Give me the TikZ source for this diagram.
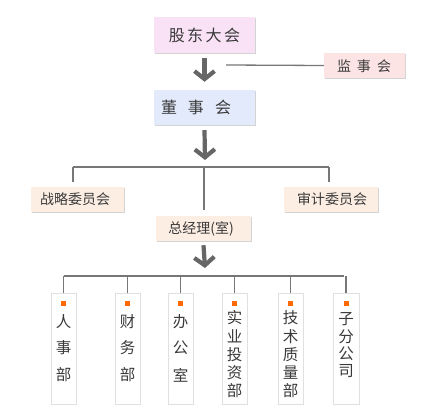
\documentclass[tikz,border=0pt]{standalone}
\usepackage{fontspec}
\setmainfont{Noto Sans CJK SC}
\usetikzlibrary{arrows.meta,shadows}
\definecolor{txt}{HTML}{3A3A3A}
\definecolor{ln}{HTML}{777777}
\definecolor{arr}{HTML}{666666}
\definecolor{pinkA}{HTML}{F9E2F6}
\definecolor{blueA}{HTML}{E2EAFC}
\definecolor{pinkB}{HTML}{FCE4E4}
\definecolor{peach}{HTML}{FDEEE4}
\definecolor{orng}{HTML}{FF6A00}
\tikzset{
  topbox/.style={fill=#1, draw=none, minimum width=101pt, minimum height=36pt, inner sep=0pt,
    drop shadow={shadow xshift=0.8pt, shadow yshift=-1.2pt, opacity=0.35}},
  smallbox/.style={fill=#1, draw=none, inner sep=0pt,
    drop shadow={shadow xshift=0.8pt, shadow yshift=-1.2pt, opacity=0.35}},
  deptbox/.style={fill=white, draw=black!12, line width=0.6pt, minimum width=25pt, inner sep=0pt,
    drop shadow={shadow xshift=1pt, shadow yshift=-1.2pt, opacity=0.25}},
  chr/.style={text=txt, inner sep=0pt, font=\fontsize{15.5}{16}\selectfont},
  tline/.style={draw=ln, line width=1.3pt},
  bigarrow/.style={draw=arr, line width=4.2pt, -{Straight Barb[length=8pt,width=20pt,line width=4.2pt]}},
  dot/.style={fill=orng, minimum size=5pt, inner sep=0pt},
}
\begin{document}
\begin{tikzpicture}[x=1pt,y=-1pt]
\useasboundingbox (0,0) rectangle (431,409);
% top boxes
\node[topbox=pinkA] (gd) at (204.5,35) {};
\node[chr, font=\fontsize{16}{16}\selectfont] (gdt) at (204.5,35) {股\hspace{2.5pt}东\hspace{2.5pt}大\hspace{2.5pt}会};
\node[topbox=blueA, minimum height=35pt] (ds) at (204.5,107.5) {};
\node[chr, font=\fontsize{16}{16}\selectfont] (dst) at (196,107.5) {董\hspace{11pt}事\hspace{11pt}会};
\node[smallbox=pinkB, minimum width=81pt, minimum height=25pt] (js) at (364.5,65.5) {};
\node[chr, font=\fontsize{14}{14}\selectfont] (jst) at (364,66) {监\hspace{6pt}事\hspace{6pt}会};
% committees
\node[smallbox=peach, minimum width=93pt, minimum height=25pt] (zl) at (77.5,199.5) {};
\node[chr, font=\fontsize{14}{14}\selectfont] at (75,199.5) {战略委员会};
\node[smallbox=peach, minimum width=94pt, minimum height=25pt] (sj) at (331,199.5) {};
\node[chr, font=\fontsize{14}{14}\selectfont] at (332,199.5) {审计委员会};
\node[smallbox=peach, minimum width=95pt, minimum height=25pt] (zj) at (203.5,228.5) {};
\node[chr, font=\fontsize{14}{14}\selectfont] at (201,228.5) {总经理(室)};
% arrows
\draw[bigarrow] ([yshift=-5pt]gd.south) -- ([yshift=8pt]ds.north);
\draw[tline] (226,65) -- (js.west);
\coordinate (br1) at (205,167);
\draw[bigarrow] ([yshift=-5pt]ds.south) -- ([yshift=7pt]br1);
\draw[tline] (73,167) -- (329,167);
\draw[tline] (73,167) -- ([yshift=5pt]zl.north -| 73,0);
\draw[tline] (329,167) -- ([yshift=5pt]sj.north -| 329,0);
\draw[tline] (204,167) -- ([yshift=6pt]zj.north -| 204,0);
\coordinate (br2) at (205,276);
\draw[bigarrow] ([yshift=-4pt]zj.south) -- ([yshift=8pt]br2);
\draw[tline] (64,276) -- (344,276);
% departments
\foreach \n/\xa/\xb in {d1/51/76, d2/115/140, d3/168/193, d4/222/247, d5/278/303, d6/333/359}{
  \node[deptbox, minimum width=\xb pt-\xa pt, minimum height=111pt] (\n) at ({(\xa+\xb)/2},348.5) {};
  \node[dot] at ({(\xa+\xb)/2},303) {};
  \draw[tline] ({(\xa+\xb)/2},276) -- (\n.north);
}
\foreach \c/\yy in {人/322, 事/348, 部/375}{\node[chr] at (63.5,\yy) {\c};}
\foreach \c/\yy in {财/322, 务/348, 部/375}{\node[chr] at (127.5,\yy) {\c};}
\foreach \c/\yy in {办/322, 公/348, 室/375}{\node[chr] at (180.5,\yy) {\c};}
\foreach \c/\yy in {实/318, 业/336.5, 投/355, 资/373, 部/391}{\node[chr] at (234.5,\yy) {\c};}
\foreach \c/\yy in {技/318, 术/336.5, 质/355, 量/373, 部/391}{\node[chr] at (290.5,\yy) {\c};}
\foreach \c/\yy in {子/319, 分/336.5, 公/354, 司/371.5}{\node[chr] at (346,\yy) {\c};}
\end{tikzpicture}
\end{document}
